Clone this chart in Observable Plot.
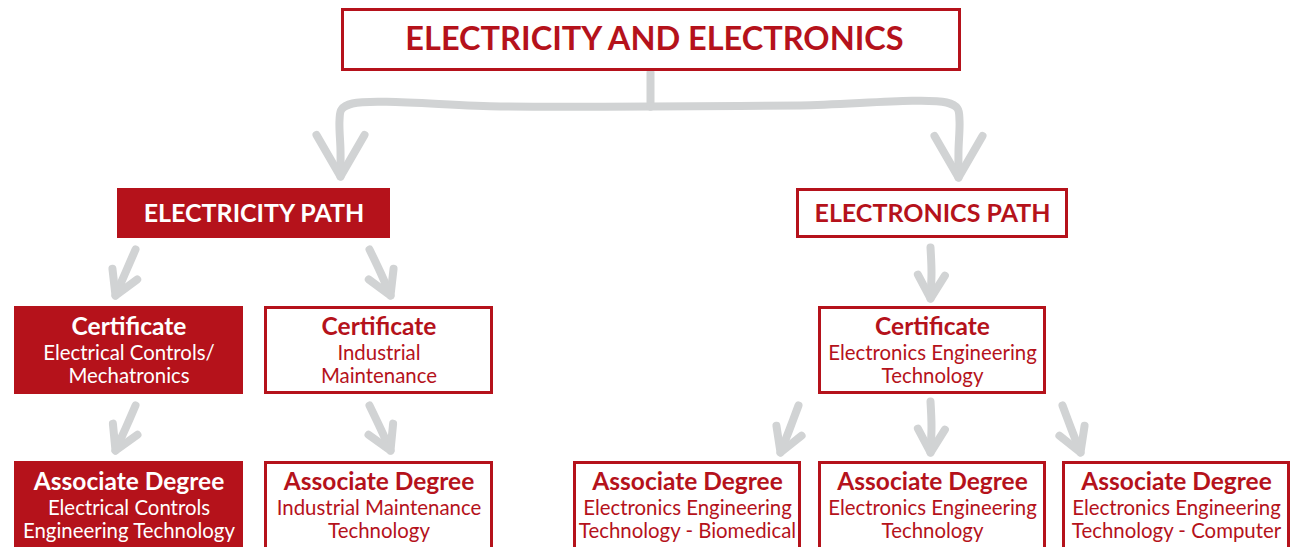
<!DOCTYPE html>
<html><head><meta charset="utf-8">
<script src="https://cdn.jsdelivr.net/npm/d3@7"></script>
<script src="https://cdn.jsdelivr.net/npm/@observablehq/plot@0.6"></script>
<style>html,body{margin:0;padding:0;background:#fff;overflow:hidden}</style>
</head><body><div id="chart"></div>
<script>
// ---- content ----
const nodeIds = ["root","elecPath","tronPath","certCtrl","certMaint","certTron","adCtrl","adMaint","adBio","adTron","adComp"];
const headings = ["ELECTRICITY AND ELECTRONICS","ELECTRICITY PATH","ELECTRONICS PATH",
  "Certificate","Certificate","Certificate",
  "Associate Degree","Associate Degree","Associate Degree","Associate Degree","Associate Degree"];
const subLines = [[],[],[],
  ["Electrical Controls/","Mechatronics"],
  ["Industrial","Maintenance"],
  ["Electronics Engineering","Technology"],
  ["Electrical Controls","Engineering Technology"],
  ["Industrial Maintenance","Technology"],
  ["Electronics Engineering","Technology - Biomedical"],
  ["Electronics Engineering","Technology"],
  ["Electronics Engineering","Technology - Computer"]];
const highlighted = [false,true,false,true,false,false,true,false,false,false,false];
const links = [["root","elecPath"],["root","tronPath"],
  ["elecPath","certCtrl"],["elecPath","certMaint"],["tronPath","certTron"],
  ["certCtrl","adCtrl"],["certMaint","adMaint"],
  ["certTron","adBio"],["certTron","adTron"],["certTron","adComp"]];

// ---- layout (pixel space of the diagram) ----
const boxes = {
  root:[341,961,8,71], elecPath:[117,390,188,238], tronPath:[796,1068,188,238],
  certCtrl:[14,243,306,394], certMaint:[264,493,306,394], certTron:[818,1046,306,394],
  adCtrl:[14,243,461,570], adMaint:[264,493,461,570], adBio:[573,801,461,570],
  adTron:[818,1046,461,570], adComp:[1062,1290,461,570]
};
const stemPath = [[650,72],[650,89],[650,106]];
const arrowPaths = {
  "root>elecPath":[[650,106],[500,106],[352,103],[341,109],[339,120],[340,150],[340,176]],
  "root>tronPath":[[650,106],[800,105],[946,102],[957,108],[959,120],[958,150],[958,177]],
  "elecPath>certCtrl":[[135,249],[125,272],[115,295]],
  "elecPath>certMaint":[[369,249],[380,272],[390,295]],
  "tronPath>certTron":[[930,247],[931,272],[930,298]],
  "certCtrl>adCtrl":[[135,405],[125,428],[115,450]],
  "certMaint>adMaint":[[369,405],[380,428],[390,450]],
  "certTron>adBio":[[798,405],[789,429],[780,452]],
  "certTron>adTron":[[930,401],[931,426],[930,452]],
  "certTron>adComp":[[1062,405],[1071,429],[1080,452]]
};

const RED = "#b5121b", GRAY = "#d1d3d4", FONT = "Lato";

const nodes = nodeIds.map((id,i)=>({id, head:headings[i], lines:subLines[i], hl:highlighted[i],
  x0:boxes[id][0], x1:boxes[id][1], y0:boxes[id][2], y1:boxes[id][3]}));
const headData = nodes.map(n => ({...n, cx:(n.x0+n.x1)/2 + (n.id==="root" ? 3 : 0),
  cy: n.lines.length ? n.y0 + 21 : (n.y0 + n.y1)/2,
  size: n.id==="root" ? 32.5 : n.lines.length ? 24.5 : 25}));
const lineData = nodes.flatMap(n => n.lines.map((t,j)=>({t, hl:n.hl, cx:(n.x0+n.x1)/2, cy:n.y0 + 46.5 + j*23.5})));

const shaftPts = [...stemPath.map(([x,y])=>({x,y,g:"stem"})),
  ...links.flatMap(([a,b]) => arrowPaths[a+">"+b].map(([x,y])=>({x,y,g:a+">"+b})))];
const headPts = links.flatMap(([a,b]) => {
  const p = arrowPaths[a+">"+b], [tx,ty] = p[p.length-1], [px,py] = p[p.length-2];
  const len = a==="root" ? 48 : 27, ang = Math.PI/6;
  const d = Math.hypot(tx-px, ty-py), ux = (px-tx)/d, uy = (py-ty)/d;
  const rot = s => ({x: tx + len*(ux*Math.cos(s*ang) - uy*Math.sin(s*ang)), y: ty + len*(ux*Math.sin(s*ang) + uy*Math.cos(s*ang))});
  const g = a+">"+b;
  return [{...rot(1),g},{x:tx,y:ty,g},{...rot(-1),g}];
});

const chart = Plot.plot({
  width:1293, height:547, margin:0,
  x:{domain:[0,1293], axis:null}, y:{domain:[0,547], axis:null, reverse:true},
  style:{fontFamily:FONT, background:"#fff", overflow:"hidden"},
  marks:[
    Plot.line(shaftPts, {x:"x", y:"y", z:"g", curve:"catmull-rom", stroke:GRAY, strokeWidth:8, strokeLinecap:"round", strokeLinejoin:"round"}),
    Plot.line(headPts, {x:"x", y:"y", z:"g", stroke:GRAY, strokeWidth:8, strokeLinecap:"round", strokeLinejoin:"round"}),
    Plot.rect(nodes, {x1:d=>d.x0+1.5, x2:d=>d.x1-1.5, y1:d=>d.y0+1.5, y2:d=>d.y1-1.5,
      fill:d=>d.hl?RED:"#fff", stroke:RED, strokeWidth:3}),
    Plot.text(headData, {x:"cx", y:"cy", text:"head", fill:d=>d.hl?"#fff":RED, fontSize:"size", fontWeight:"bold", textAnchor:"middle", lineAnchor:"middle"}),
    Plot.text(lineData, {x:"cx", y:"cy", text:"t", fill:d=>d.hl?"#fff":RED, fontSize:20.4, textAnchor:"middle", lineAnchor:"middle"})
  ]
});
document.getElementById("chart").appendChild(chart);
</script></body></html>
